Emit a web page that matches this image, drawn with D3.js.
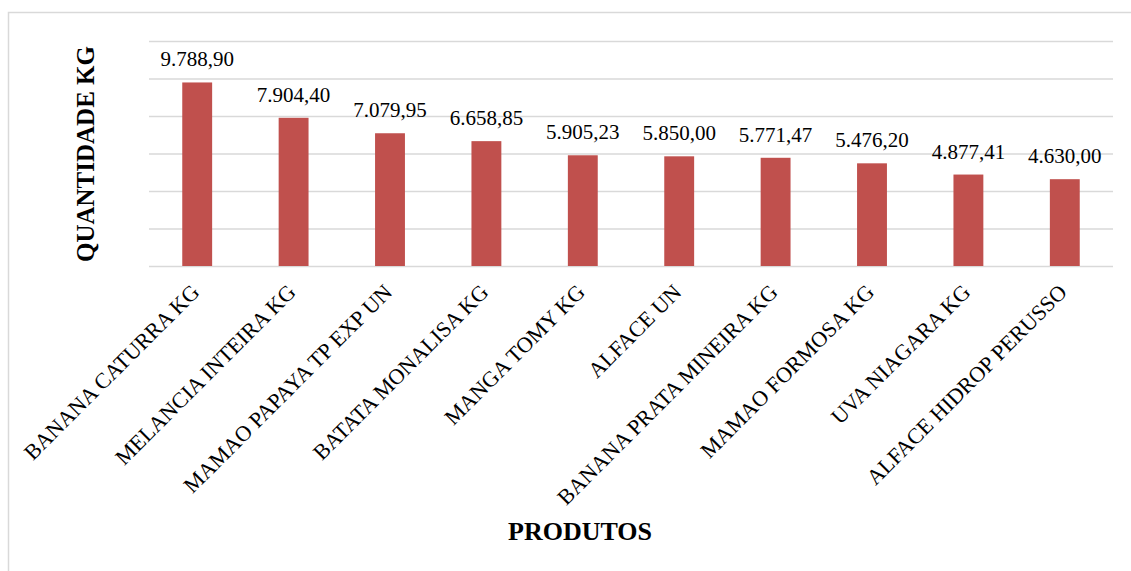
<!DOCTYPE html>
<html>
<head>
<meta charset="utf-8">
<script src="https://cdn.jsdelivr.net/npm/d3@7"></script>
<style>
  html, body { margin: 0; padding: 0; background: #fff; }
  svg text { font-family: "Liberation Serif", "Times New Roman", serif; }
</style>
</head>
<body>
<svg id="chart" width="1131" height="571"></svg>
<script>
// Produtos e quantidades (kg)
const categories = [
  "BANANA CATURRA KG",
  "MELANCIA INTEIRA KG",
  "MAMAO PAPAYA TP EXP UN",
  "BATATA MONALISA KG",
  "MANGA TOMY KG",
  "ALFACE UN",
  "BANANA PRATA MINEIRA KG",
  "MAMAO FORMOSA KG",
  "UVA NIAGARA KG",
  "ALFACE HIDROP PERUSSO"
];
const quantities = [9788.90, 7904.40, 7079.95, 6658.85, 5905.23, 5850.00, 5771.47, 5476.20, 4877.41, 4630.00];
const yTicks = [0, 2000, 4000, 6000, 8000, 10000, 12000];

const serif = "'Liberation Serif', 'Times New Roman', serif";
const svg = d3.select("#chart");

// Outer frame
svg.append("rect")
  .attr("x", 8.5).attr("y", 12.5)
  .attr("width", 1130).attr("height", 570)
  .attr("fill", "none").attr("stroke", "#d9d9d9").attr("stroke-width", 1.5);

const plotLeft = 149, plotRight = 1113, plotTop = 41, plotBottom = 266;

const x = d3.scaleBand().domain(categories).range([plotLeft, plotRight]).paddingInner(0.69).paddingOuter(0.345);
const y = d3.scaleLinear().domain([0, 12000]).range([plotBottom, plotTop]);

// Horizontal gridlines
svg.append("g")
  .attr("transform", `translate(${plotLeft},0)`)
  .call(d3.axisLeft(y).tickValues(yTicks).tickSize(-(plotRight - plotLeft)).tickFormat(""))
  .call(g => g.select(".domain").remove())
  .call(g => g.selectAll(".tick line").attr("stroke", "#d9d9d9").attr("stroke-width", 1.5));

// Bars
svg.append("g").selectAll("rect")
  .data(quantities)
  .join("rect")
  .attr("x", (d, i) => x(categories[i]))
  .attr("y", d => y(d))
  .attr("width", x.bandwidth())
  .attr("height", d => y(0) - y(d))
  .attr("fill", "#c0504d");

// Value labels (pt-BR formatting)
const fmt = d3.formatLocale({ decimal: ",", thousands: ".", grouping: [3], currency: ["R$", ""] }).format(",.2f");
svg.append("g").selectAll("text")
  .data(quantities)
  .join("text")
  .attr("x", (d, i) => x(categories[i]) + x.bandwidth() / 2)
  .attr("y", d => y(d) - 16)
  .attr("text-anchor", "middle")
  .attr("font-family", serif)
  .attr("font-size", 21)
  .attr("fill", "#000")
  .text(d => fmt(d));

// Category labels, rotated
svg.append("g").selectAll("text")
  .data(categories)
  .join("text")
  .attr("transform", d => `translate(${x(d) + x.bandwidth() / 2 - 2},${plotBottom + 22}) rotate(-45)`)
  .attr("text-anchor", "end")
  .attr("dy", "0.35em")
  .attr("font-family", serif)
  .attr("font-size", 22)
  .attr("fill", "#000")
  .text(d => d);

// Axis titles
svg.append("text")
  .attr("transform", `translate(94,${(45 + 263) / 2}) rotate(-90)`)
  .attr("text-anchor", "middle")
  .attr("font-family", serif)
  .attr("font-size", 25)
  .attr("font-weight", "bold")
  .text("QUANTIDADE  KG");

svg.append("text")
  .attr("x", 580).attr("y", 540)
  .attr("text-anchor", "middle")
  .attr("font-family", serif)
  .attr("font-size", 26)
  .attr("font-weight", "bold")
  .text("PRODUTOS");
</script>
</body>
</html>
